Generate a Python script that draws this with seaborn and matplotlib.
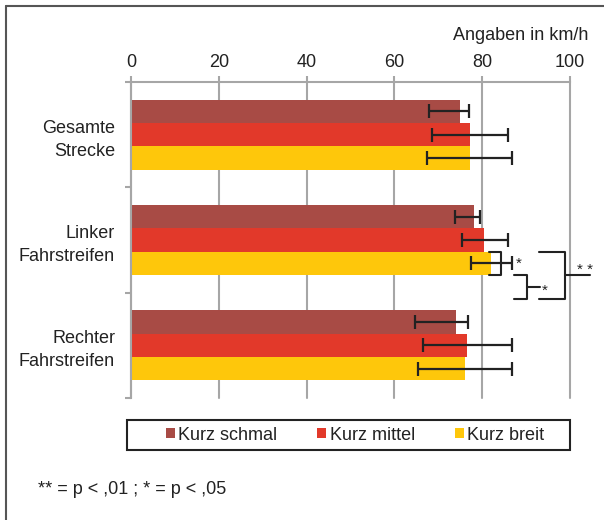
import matplotlib
matplotlib.use("Agg")
import matplotlib.pyplot as plt
from matplotlib.container import BarContainer
from matplotlib.lines import Line2D
from matplotlib.patches import Patch, Rectangle
import numpy as np
import pandas as pd
import seaborn as sns

# Speeds per road section and lane-width variant (km/h)
sections = ["Gesamte\nStrecke", "Linker\nFahrstreifen", "Rechter\nFahrstreifen"]
variants = ["Kurz schmal", "Kurz mittel", "Kurz breit"]
kurz_schmal = [75.0, 78.1, 74.1]
kurz_mittel = [77.2, 80.5, 76.5]
kurz_breit = [77.2, 82.0, 76.1]
# Error bar ends
schmal_low = [67.8, 73.9, 64.6]
schmal_high = [76.9, 79.4, 76.8]
mittel_low = [68.6, 75.4, 66.5]
mittel_high = [85.8, 85.8, 86.7]
breit_low = [67.4, 77.4, 65.4]
breit_high = [86.8, 86.7, 86.7]
x_ticks = [0, 20, 40, 60, 80, 100]
colors = ["#A84B45", "#E2392A", "#FEC70B"]

lows = [schmal_low, mittel_low, breit_low]
highs = [schmal_high, mittel_high, breit_high]

df = pd.DataFrame({
    "Strecke": sections * 3,
    "Variante": [v for v in variants for _ in sections],
    "kmh": kurz_schmal + kurz_mittel + kurz_breit,
})

sns.set_style("white")
plt.rcParams["font.family"] = ["Liberation Sans", "DejaVu Sans"]
TXT = "#222222"
GRID = "#A6A6A6"

fig = plt.figure(figsize=(6.04, 5.2), dpi=100)
ax = fig.add_axes([131 / 604, 1 - 398 / 520, 439 / 604, 316 / 520])

sns.barplot(data=df, y="Strecke", x="kmh", hue="Variante", order=sections,
            hue_order=variants, palette=colors, orient="h", width=0.667,
            errorbar=None, saturation=1, legend=False, ax=ax, zorder=2,
            linewidth=0, edgecolor="none")

bar_groups = [c for c in ax.containers if isinstance(c, BarContainer)]
bars_by_variant = [sorted(c.patches, key=lambda p: p.get_y()) for c in bar_groups]

# Error bars placed on the drawn bars
for i, patches in enumerate(bars_by_variant):
    ys = [p.get_y() + p.get_height() / 2 for p in patches]
    xs = np.array([p.get_width() for p in patches])
    lo = xs - np.array(lows[i])
    hi = np.array(highs[i]) - xs
    ax.errorbar(xs, ys, xerr=[lo, hi], fmt="none", ecolor=TXT,
                elinewidth=1.6, capsize=5, capthick=1.6, zorder=3)

ax.set_xlim(0, 100)
ax.set_ylim(2.5, -0.5)
ax.set_xlabel("")
ax.set_ylabel("")

# Axis styling
ax.xaxis.tick_top()
ax.set_xticks(x_ticks)
ax.tick_params(axis="x", top=True, bottom=False, length=4, width=1.5,
               color=GRID, labelsize=13, labelcolor=TXT, pad=4)
ax.xaxis.grid(True, color=GRID, linewidth=1.5, zorder=0)
for gl in ax.get_xgridlines():
    gl.set_clip_on(False)
ax.set_axisbelow(True)

ax.set_yticks([0, 1, 2])
ax.set_yticklabels(sections, linespacing=1.45, ha="right", multialignment="right")
ax.set_yticks([-0.5, 0.5, 1.5, 2.5], minor=True)
ax.tick_params(axis="y", which="major", length=0, labelsize=13,
               labelcolor=TXT, pad=11.5)
ax.tick_params(axis="y", which="minor", length=4, width=1.5, color=GRID, left=True)

for side in ["right", "bottom"]:
    ax.spines[side].set_visible(False)
for side in ["top", "left"]:
    ax.spines[side].set_color(GRID)
    ax.spines[side].set_linewidth(1.5)

# Significance brackets beside the left lane
breit_bar = bars_by_variant[2][1]
b_top = breit_bar.get_y()
b_h = breit_bar.get_height()
b_bot = b_top + b_h
kw = dict(color=TXT, linewidth=1.5, clip_on=False, zorder=4)

ax.plot([81.5, 84.3, 84.3, 81.5], [b_top, b_top, b_bot, b_bot], **kw)
ax.text(88.4, b_top + b_h / 2, "*", fontsize=11, color=TXT, ha="center", va="center")

b2_bot = b_bot + b_h
ax.plot([87.2, 90.2, 90.2, 87.2], [b_bot, b_bot, b2_bot, b2_bot], **kw)
ax.plot([90.2, 93.2], [b_bot + b_h / 2] * 2, **kw)
ax.text(94.3, b_bot + b_h / 2 + 0.04, "*", fontsize=11, color=TXT, ha="center", va="center")

ax.plot([92.9, 98.9, 98.9, 92.9], [b_top, b_top, b2_bot, b2_bot], **kw)
b3_mid = (b_top + b2_bot) / 2
ax.plot([98.9, 104.6], [b3_mid] * 2, **kw)
ax.text(103.4, b3_mid - 0.05, "* *", fontsize=11, color=TXT, ha="center", va="center")

# Unit note
fig.text(588 / 604, 1 - 35 / 520, "Angaben in km/h", fontsize=13, color=TXT,
         ha="right", va="center")

# Legend with a square box
fig.patches.append(Rectangle((127 / 604, 1 - 450 / 520), 443 / 604, 30 / 520,
                             transform=fig.transFigure, fill=False,
                             edgecolor=TXT, linewidth=1.5))
handles = [Patch(facecolor=c, edgecolor="none", label=v) for c, v in zip(colors, variants)]
fig.legend(handles=handles, loc="center", bbox_to_anchor=(355 / 604, 1 - 435 / 520),
           ncol=3, frameon=False, fontsize=13, handlelength=0.5, handleheight=0.5,
           handletextpad=0.2, columnspacing=2.2, labelcolor=TXT)

fig.text(38 / 604, 1 - 490 / 520, "** = p < ,01 ; * = p < ,05", fontsize=13,
         color=TXT, ha="left", va="center")

# Outer frame (top and left edges)
frame_kw = dict(transform=fig.transFigure, color="#555555", linewidth=1.5)
fig.lines.append(Line2D([6 / 604, 1], [1 - 6 / 520, 1 - 6 / 520], **frame_kw))
fig.lines.append(Line2D([6 / 604, 6 / 604], [0, 1 - 6 / 520], **frame_kw))

fig.savefig("out.png", dpi=100)
